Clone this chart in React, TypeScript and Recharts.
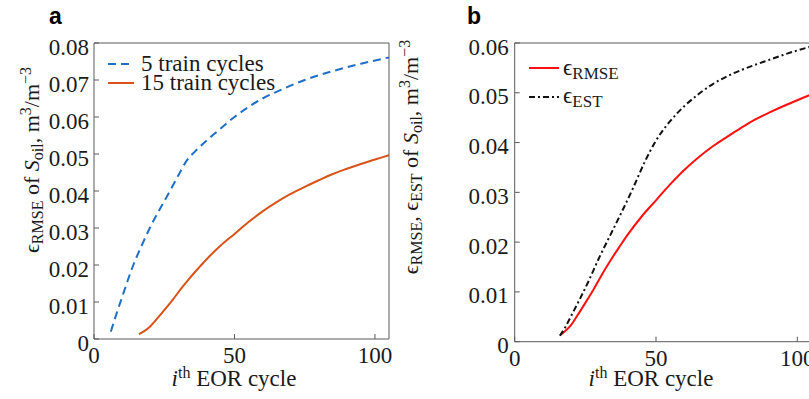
import React from "react";
import { LineChart, Line, XAxis, YAxis, Legend } from "recharts";

// panel a: error vs EOR cycle for two training lengths
const cycles5 = [6, 8, 10, 12, 14, 17, 20, 23, 26, 30, 33, 36, 40, 44, 50, 55, 60, 67, 75, 85, 95, 105];
const rmse5 = [0.002, 0.0068, 0.0113, 0.0158, 0.02, 0.0253, 0.0302, 0.0345, 0.0386, 0.0442, 0.0482, 0.0507, 0.0536, 0.0562, 0.06, 0.0627, 0.065, 0.0675, 0.07, 0.0724, 0.0744, 0.0761];

const cycles15 = [16, 18, 20, 22, 25, 28, 31, 34, 37, 40, 45, 50, 55, 60, 65, 70, 75, 80, 85, 90, 95, 100, 105];
const rmse15 = [0.0013, 0.0022, 0.0034, 0.0051, 0.0078, 0.0106, 0.0136, 0.0164, 0.019, 0.0215, 0.0252, 0.0284, 0.0316, 0.0345, 0.037, 0.0392, 0.0411, 0.0429, 0.0446, 0.046, 0.0473, 0.0485, 0.0497];

// panel b: rmse vs estimated error
const estCycles = [16, 18, 20, 23, 26, 30, 34, 38, 42, 46, 50, 55, 60, 65, 70, 77, 85, 90, 95, 100, 105];
const est = [0.0012, 0.003, 0.0052, 0.0085, 0.012, 0.017, 0.0216, 0.0262, 0.031, 0.0361, 0.0404, 0.0443, 0.0473, 0.0497, 0.0517, 0.0538, 0.0556, 0.0566, 0.0576, 0.0585, 0.0593];

const namesA = ["5 train cycles", "15 train cycles"];
const namesB = ["ϵ_RMSE", "ϵ_EST"];

const xTicks = [0, 50, 100];
const yTicksA = [0, 0.01, 0.02, 0.03, 0.04, 0.05, 0.06, 0.07, 0.08];
const yTicksB = [0, 0.01, 0.02, 0.03, 0.04, 0.05, 0.06];

const pts = (xs: number[], ys: number[]) => xs.map((x, i) => ({ x, y: ys[i] }));

const AXIS = "#5a5a5a";
const SERIF = "Liberation Serif, Times New Roman, serif";
const TXT = "#1a1a1a";

function YTick(props: any) {
  const { x, y, payload } = props;
  const v = payload.value;
  return (
    <text x={x} y={y} dy={11.5} textAnchor="end" style={{ fontFamily: SERIF, fontSize: 23 }} fill={TXT}>
      {v === 0 ? "0" : v.toFixed(2)}
    </text>
  );
}

function XTick(props: any) {
  const { x, y, payload } = props;
  return (
    <text x={x} y={y} dy={24} textAnchor="middle" style={{ fontFamily: SERIF, fontSize: 23 }} fill={TXT}>
      {payload.value}
    </text>
  );
}

const sub = { fontSize: 16, verticalAlign: "-4px", lineHeight: 0 } as const;
const sup = { fontSize: 16, verticalAlign: "8px", lineHeight: 0 } as const;

function SeriesName({ name }: { name: string }) {
  const [base, s] = name.split("_");
  return (
    <span>
      {base}
      {s && <span style={{ fontSize: 17, verticalAlign: "-4px", lineHeight: 0 }}>{s}</span>}
    </span>
  );
}

function LegendRows({ payload, order, rowH, lineW, gap }: any) {
  const items = [...(payload || [])].sort(
    (a: any, b: any) => order.indexOf(String(a.value)) - order.indexOf(String(b.value))
  );
  return (
    <div style={{ fontFamily: SERIF, fontSize: 23, color: TXT }}>
      {items.map((e: any, i: number) => (
        <div key={i} style={{ display: "flex", alignItems: "center", height: rowH, lineHeight: `${rowH}px`, whiteSpace: "nowrap" }}>
          <svg width={lineW} height={4} style={{ marginRight: gap }}>
            <line x1={0} y1={2} x2={lineW} y2={2} stroke={e.color} strokeWidth={2}
              strokeDasharray={e.payload?.strokeDasharray} />
          </svg>
          <SeriesName name={String(e.value)} />
        </div>
      ))}
    </div>
  );
}

const abs = (left: number, top: number): React.CSSProperties => ({ position: "absolute", left, top });

export default function App() {
  return (
    <div style={{ position: "absolute", left: 0, top: 0, width: 809, height: 399, overflow: "hidden", background: "#fff" }}>
      {/* panel a */}
      <div style={abs(0, 0)}>
        <LineChart width={400} height={399} margin={{ left: 34, right: 6, top: 38, bottom: 30 }}>
          <XAxis xAxisId="b" dataKey="x" type="number" domain={[0, 105]} allowDataOverflow ticks={xTicks}
            height={30} tickSize={-5} tickMargin={5} stroke={AXIS} tick={<XTick />} />
          <XAxis xAxisId="t" orientation="top" dataKey="x" type="number" domain={[0, 105]} allowDataOverflow
            ticks={xTicks} height={5} tickSize={-5} stroke={AXIS} tick={false} />
          <YAxis yAxisId="l" type="number" domain={[0, 0.08]} allowDataOverflow ticks={yTicksA} width={60}
            tickSize={-5} tickMargin={10} stroke={AXIS} tick={<YTick />} />
          <YAxis yAxisId="r" orientation="right" type="number" domain={[0, 0.08]} allowDataOverflow ticks={yTicksA}
            width={5} tickSize={-5} stroke={AXIS} tick={false} />
          <Legend verticalAlign="middle" align="center" layout="vertical"
            wrapperStyle={{ left: 108, top: 54, width: "auto" }}
            content={(p: any) => <LegendRows payload={p.payload} order={namesA} rowH={19.3} lineW={26} gap={7} />} />
          <Line xAxisId="b" yAxisId="l" data={pts(cycles5, rmse5)} dataKey="y" name={namesA[0]}
            type="monotone" stroke="#1f6fc8" strokeWidth={2} strokeDasharray="8 5" dot={false} isAnimationActive={false} />
          <Line xAxisId="b" yAxisId="l" data={pts(cycles15, rmse15)} dataKey="y" name={namesA[1]}
            type="monotone" stroke="#d95319" strokeWidth={2} dot={false} isAnimationActive={false} />
        </LineChart>
      </div>

      {/* panel b */}
      <div style={abs(420, 0)}>
        <LineChart width={400} height={399} margin={{ left: 34.7, right: 3.6, top: 38, bottom: 27.3 }}>
          <XAxis xAxisId="b" dataKey="x" type="number" domain={[0, 105]} allowDataOverflow ticks={xTicks}
            height={30} tickSize={-5} tickMargin={5} stroke={AXIS} tick={<XTick />} />
          <XAxis xAxisId="t" orientation="top" dataKey="x" type="number" domain={[0, 105]} allowDataOverflow
            ticks={xTicks} height={5} tickSize={-5} stroke={AXIS} tick={false} />
          <YAxis yAxisId="l" type="number" domain={[0, 0.06]} allowDataOverflow ticks={yTicksB} width={60}
            tickSize={-5} tickMargin={11} stroke={AXIS} tick={<YTick />} />
          <YAxis yAxisId="r" orientation="right" type="number" domain={[0, 0.06]} allowDataOverflow ticks={yTicksB}
            width={5} tickSize={-5} stroke={AXIS} tick={false} />
          <Legend verticalAlign="middle" align="center" layout="vertical"
            wrapperStyle={{ left: 109, top: 54, width: "auto" }}
            content={(p: any) => <LegendRows payload={p.payload} order={namesB} rowH={28.4} lineW={30} gap={4} />} />
          <Line xAxisId="b" yAxisId="l" data={pts(cycles15, rmse15)} dataKey="y" name={namesB[0]}
            type="monotone" stroke="#ff1010" strokeWidth={2} dot={false} isAnimationActive={false} />
          <Line xAxisId="b" yAxisId="l" data={pts(estCycles, est)} dataKey="y" name={namesB[1]}
            type="monotone" stroke="#111" strokeWidth={2} strokeDasharray="6 3 2 3" dot={false} isAnimationActive={false} />
        </LineChart>
      </div>

      {/* panel letters */}
      <div style={{ ...abs(49, 5), fontFamily: "Liberation Sans, Arial, sans-serif", fontWeight: 700, fontSize: 23, lineHeight: 1 }}>a</div>
      <div style={{ ...abs(467, 5), fontFamily: "Liberation Sans, Arial, sans-serif", fontWeight: 700, fontSize: 23, lineHeight: 1 }}>b</div>

      {/* y titles */}
      <div style={{ ...abs(32, 160), transform: "translate(-50%, -50%) rotate(-90deg)", fontFamily: SERIF, fontSize: 22, lineHeight: 1, whiteSpace: "nowrap", color: TXT }}>
        ϵ<span style={sub}>RMSE</span> of <i>S</i><span style={sub}>oil</span>, m<span style={sup}>3</span>/m<span style={sup}>−3</span>
      </div>
      <div style={{ ...abs(411, 157), transform: "translate(-50%, -50%) rotate(-90deg)", fontFamily: SERIF, fontSize: 22, lineHeight: 1, whiteSpace: "nowrap", color: TXT }}>
        ϵ<span style={sub}>RMSE</span>, ϵ<span style={sub}>EST</span> of <i>S</i><span style={sub}>oil</span>, m<span style={sup}>3</span>/m<span style={sup}>−3</span>
      </div>

      {/* x titles */}
      <div style={{ ...abs(234, 367), transform: "translateX(-50%)", fontFamily: SERIF, fontSize: 23, lineHeight: 1, whiteSpace: "nowrap", color: TXT }}>
        <i>i</i><span style={sup}>th</span> EOR cycle
      </div>
      <div style={{ ...abs(651, 367), transform: "translateX(-50%)", fontFamily: SERIF, fontSize: 23, lineHeight: 1, whiteSpace: "nowrap", color: TXT }}>
        <i>i</i><span style={sup}>th</span> EOR cycle
      </div>
    </div>
  );
}
